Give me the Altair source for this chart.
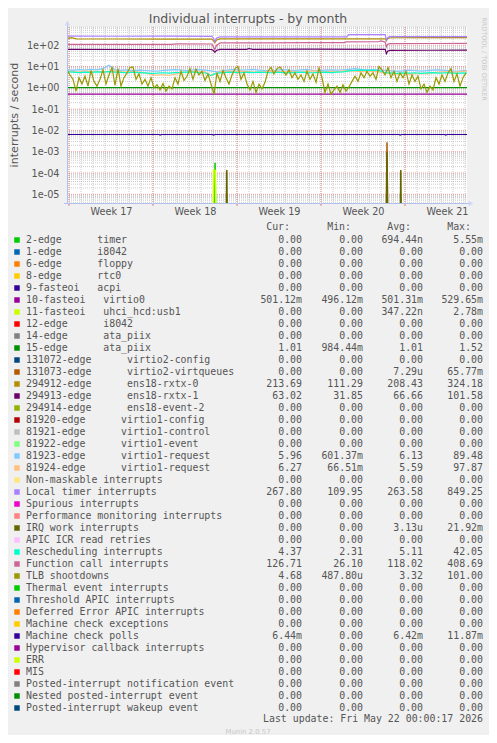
import altair as alt
import pandas as pd

# ---------------- text ----------------
title_text = "Individual interrupts - by month"
ytitle_text = "interrupts / second"
watermark_text = "RRDTOOL / TOBI OETIKER"
update_text = "Last update: Fri May 22 00:00:17 2026"
munin_text = "Munin 2.0.57"
headers = ["Cur:", "Min:", "Avg:", "Max:"]

ytick_values = [1e-05, 1e-04, 1e-03, 1e-02, 1e-01, 1e+00, 1e+01, 1e+02]
ytick_labels = ["1e-05", "1e-04", "1e-03", "1e-02", "1e-01", "1e+00", "1e+01", "1e+02"]
week_centers = [3.5, 10.5, 17.5, 24.5, 31.5]
week_labels = ["Week 17", "Week 18", "Week 19", "Week 20", "Week 21"]
week_starts = [0, 7, 14, 21, 28]
day_lines = list(range(0, 34))

# ---------------- legend ----------------
names = [
    "2-edge      timer", "1-edge      i8042", "6-edge      floppy", "8-edge      rtc0",
    "9-fasteoi   acpi", "10-fasteoi   virtio0", "11-fasteoi   uhci_hcd:usb1",
    "12-edge      i8042", "14-edge      ata_piix", "15-edge      ata_piix",
    "131072-edge      virtio2-config", "131073-edge      virtio2-virtqueues",
    "294912-edge      ens18-rxtx-0", "294913-edge      ens18-rxtx-1",
    "294914-edge      ens18-event-2", "81920-edge      virtio1-config",
    "81921-edge      virtio1-control", "81922-edge      virtio1-event",
    "81923-edge      virtio1-request", "81924-edge      virtio1-request",
    "Non-maskable interrupts", "Local timer interrupts", "Spurious interrupts",
    "Performance monitoring interrupts", "IRQ work interrupts", "APIC ICR read retries",
    "Rescheduling interrupts", "Function call interrupts", "TLB shootdowns",
    "Thermal event interrupts", "Threshold APIC interrupts", "Deferred Error APIC interrupts",
    "Machine check exceptions", "Machine check polls", "Hypervisor callback interrupts",
    "ERR", "MIS", "Posted-interrupt notification event", "Nested posted-interrupt event",
    "Posted-interrupt wakeup event",
]
colors = [
    "#00CC00", "#0066B3", "#FF8000", "#FFCC00", "#330099", "#990099", "#CCFF00", "#FF0000",
    "#808080", "#008F00", "#00487D", "#B35A00", "#B38F00", "#6B006B", "#8FB300", "#B30000",
    "#BEBEBE", "#80FF80", "#80C9FF", "#FFC080", "#FFE680", "#AA80FF", "#EE00CC", "#FF8080",
    "#666600", "#FFBFFF", "#00FFCC", "#CC6699", "#999900", "#00CC00", "#0066B3", "#FF8000",
    "#FFCC00", "#330099", "#990099", "#CCFF00", "#FF0000", "#808080", "#008F00", "#00487D",
]
Z = "0.00"
cur = [Z, Z, Z, Z, Z, "501.12m", Z, Z, Z, "1.01", Z, Z, "213.69", "63.02", Z, Z, Z, Z,
       "5.96", "6.27", Z, "267.80", Z, Z, Z, Z, "4.37", "126.71", "4.68", Z, Z, Z, Z,
       "6.44m", Z, Z, Z, Z, Z, Z]
mins = [Z, Z, Z, Z, Z, "496.12m", Z, Z, Z, "984.44m", Z, Z, "111.29", "31.85", Z, Z, Z, Z,
        "601.37m", "66.51m", Z, "109.95", Z, Z, Z, Z, "2.31", "26.10", "487.80u", Z, Z, Z, Z,
        Z, Z, Z, Z, Z, Z, Z]
avgs = ["694.44n", Z, Z, Z, Z, "501.31m", "347.22n", Z, Z, "1.01", Z, "7.29u", "208.43", "66.66",
        Z, Z, Z, Z, "6.13", "5.59", Z, "263.58", Z, Z, "3.13u", Z, "5.11", "118.02", "3.32",
        Z, Z, Z, Z, "6.42m", Z, Z, Z, Z, Z, Z]
maxs = ["5.55m", Z, Z, Z, Z, "529.65m", "2.78m", Z, Z, "1.52", Z, "65.77m", "324.18", "101.58",
        Z, Z, Z, Z, "89.48", "97.87", Z, "849.25", Z, Z, "21.92m", Z, "42.05", "408.69", "101.00",
        Z, Z, Z, Z, "11.87m", Z, Z, Z, Z, Z, Z]

# ---------------- series ----------------
tlb_vals = [7, 4, 2.5, 0.7, 3, 1.5, 3.5, 1.2, 6.5, 2, 1.2, 2.5, 7, 1.5, 4, 9, 1.3, 8, 1.2, 3,
            5, 9, 9.5, 2.5, 4.5, 1.5, 2.5, 1.2, 3, 1, 1.4, 0.8, 1.6, 0.7, 1.2, 0.9, 3, 1.5, 6, 2.2,
            3.5, 8, 2.5, 7.5, 4, 6, 2.2, 4.5, 1.5, 0.5, 5, 2, 6.5, 3, 1.5, 4, 8, 10, 2.5, 5,
            1.5, 0.8, 2, 0.6, 1.5, 0.9, 1.8, 6, 9, 4.5, 8, 9.5, 6, 4, 7, 3, 5, 2.5, 4, 2,
            6, 2.5, 4.5, 1.8, 8.5, 3, 0.6, 1.5, 0.5, 0.8, 1.2, 0.6, 1.4, 0.7, 1.1, 2, 3.5, 2, 5, 3,
            6, 3.5, 5, 2.5, 10, 7, 4, 9, 3, 6, 2, 5, 3, 6, 1.5, 4, 2, 3.5, 0.9, 1.5,
            0.6, 1.2, 0.8, 3, 1.5, 4, 2, 5, 8, 2, 4.5, 1.2, 3, 5]
blue_vals = [7.0, 6.6, 7.2, 6.8, 7.4, 6.9, 8.0, 11.5, 7.0, 6.6, 6.9, 6.4, 6.8, 6.5, 6.2, 6.0, 6.6,
             6.8, 7.1, 6.7, 6.5, 6.9, 7.2, 6.8, 6.3, 5.6, 6.4, 6.9, 7.1, 6.7, 6.9, 7.3, 6.8, 6.5,
             6.2, 6.8, 7.1, 6.7, 6.5, 6.9, 7.2, 6.6, 6.4, 6.8, 7.0, 6.7, 6.9, 7.4, 7.9, 7.3, 6.9,
             7.1, 6.8, 6.6, 6.2, 5.9, 6.3, 6.7, 6.5, 6.1, 6.4, 6.8, 7.0, 6.6, 6.3, 6.0, 6.5, 6.3]
orange_vals = [6.0, 5.8, 5.5, 6.2, 5.7, 6.0, 5.6, 5.9, 6.3, 5.8, 5.5, 5.9, 5.4, 5.0, 4.3, 3.9, 4.1,
               3.8, 4.4, 5.2, 5.6, 5.9, 5.5, 5.7, 3.6, 5.3, 5.8, 6.1, 5.7, 5.9, 6.0, 5.6, 5.4, 5.8,
               6.1, 5.9, 5.6, 6.0, 5.7, 5.5, 5.9, 6.2, 5.8, 5.6, 6.0, 5.7, 6.1, 6.4, 6.0, 5.8, 6.2,
               5.9, 5.6, 5.0, 4.6, 4.4, 4.7, 4.3, 4.6, 4.8, 4.5, 5.0, 5.4, 5.7, 5.3, 5.6, 5.9, 6.1]
cyan_vals = [5.6, 5.4, 5.2, 5.5, 5.3, 5.6, 5.4, 5.7, 5.5, 5.3, 5.1, 5.4, 5.2, 5.0, 4.8, 4.9, 5.1,
             4.9, 5.2, 5.3, 5.5, 5.4, 5.2, 5.1, 3.8, 4.9, 5.2, 5.4, 5.3, 5.1, 5.4, 5.2, 5.5, 5.3,
             5.1, 5.4, 5.2, 5.0, 5.3, 5.4, 5.2, 5.1, 5.3, 5.5, 5.2, 5.4, 5.6, 6.2, 6.6, 6.7, 6.6,
             6.8, 6.5, 5.2, 5.0, 4.8, 5.0, 4.9, 5.1, 4.8, 5.0, 5.2, 4.9, 5.1, 5.0, 4.8, 5.0, 4.9]

ltimer_days = [-0.17, 4.0, 8.0, 11.9, 12.05, 12.15, 12.3, 12.6, 16.0, 20.0, 23.15, 23.3, 26.35,
               26.45, 26.55, 26.7, 30.0, 33.2]
ltimer_vals = [268, 264, 266, 262, 210, 150, 220, 246, 244, 248, 246, 316, 318, 175, 225, 252, 255, 252]
rx0_days = [-0.17, 0.2, 0.6, 4, 8, 11.9, 12.05, 12.15, 12.3, 12.6, 16, 20, 23, 26.35, 26.45,
            26.55, 26.75, 30, 33.2]
rx0_vals = [205, 225, 198, 196, 195, 194, 160, 130, 175, 198, 199, 197, 200, 200, 162, 200, 224, 226, 225]
fcall_days = [-0.17, 4, 8.5, 9.0, 11.9, 12.05, 12.15, 12.3, 12.6, 16, 20, 22.9, 23.1, 25.8, 26.0,
              26.35, 26.45, 26.55, 26.75, 30, 33.2]
fcall_vals = [110, 109, 110, 115, 114, 80, 62, 100, 128, 130, 131, 133, 142, 145, 160, 140, 85,
              110, 118, 120, 121]
rx1_days = [-0.17, 6, 11.9, 12.05, 12.15, 12.3, 12.6, 14.8, 15.0, 15.3, 20, 26.35, 26.45, 26.55,
            26.75, 30, 33.2]
rx1_vals = [64, 63, 63, 55, 46, 58, 64, 64, 70, 64, 65, 64, 40, 52, 57, 58, 59]
ata_days = [-0.17, 33.2]
ata_vals = [1.01, 1.01]
virtio0_days = [-0.17, 33.2]
virtio0_vals = [0.501, 0.501]
mcp_days = [-0.17, 7.5, 7.6, 7.7, 11.95, 12.05, 12.15, 27.5, 27.6, 27.7, 31.3, 31.4, 31.5, 33.2]
mcp_vals = [6.42e-3, 6.42e-3, 6.0e-3, 6.42e-3, 6.42e-3, 6.0e-3, 6.42e-3, 6.42e-3, 6.0e-3,
            6.42e-3, 6.42e-3, 6.0e-3, 6.42e-3, 6.42e-3]
timer_days = [12.05, 12.17, 12.29]
timer_vals = [0, 3e-4, 0]
uhci_days = [11.98, 12.06, 12.2, 12.28]
uhci_vals = [0, 1.4e-4, 1.3e-4, 0]
irq_days = [13.05, 13.15, 13.25, 26.4, 26.5, 26.6, 27.55, 27.65, 27.75]
irq_vals = [0, 1.4e-4, 0, 0, 1e-3, 0, 0, 1.4e-4, 0]
vq_days = [26.4, 26.5, 26.6]
vq_vals = [0, 2.8e-3, 0]

W, H = 400, 176
FONT = "DejaVu Sans"
MONO = "DejaVu Sans Mono"
TXT = "#555555"

xscale = alt.Scale(domain=[-1 / 6, 33 + 1 / 6], nice=False, zero=False)
yscale = alt.Scale(type="log", domain=[3.91e-6, 716], nice=False)
ylab = "[" + ",".join("'%s'" % s for s in ytick_labels) + "][round(log(datum.value)/LN10)+5]"
xlab = "[" + ",".join("'%s'" % s for s in week_labels) + "][round((datum.value-3.5)/7)]"
xaxis = alt.Axis(values=week_centers, labelExpr=xlab, domain=False, ticks=False, grid=False,
                 labelPadding=3, labelFontSize=9.7, labelColor=TXT, labelFont=FONT, title=None)
yaxis = alt.Axis(values=ytick_values, labelExpr=ylab, domain=False, ticks=False, grid=False,
                 labelPadding=8, labelFontSize=9.7, labelColor=TXT, labelFont=FONT, title=None)


def X(f):
    return alt.X(f + ":Q", scale=xscale, axis=xaxis)


def Y(f):
    return alt.Y(f + ":Q", scale=yscale, axis=yaxis)


layers = []
# horizontal grid
minor = [m * 10.0 ** k for k in range(-6, 3) for m in range(2, 10) if 3.91e-6 < m * 10.0 ** k < 716]
layers.append(alt.Chart(pd.DataFrame({"v": minor})).mark_rule(
    color="#8F8F8F", opacity=0.45, strokeDash=[1, 1], strokeWidth=1).encode(
    y=Y("v"), x=alt.value(0), x2=alt.value(W)))
layers.append(alt.Chart(pd.DataFrame({"v": ytick_values})).mark_rule(
    color="#E85A5A", opacity=0.6, strokeDash=[1, 1], strokeWidth=1).encode(
    y=Y("v"), x=alt.value(0), x2=alt.value(W)))
# vertical grid
layers.append(alt.Chart(pd.DataFrame({"d": day_lines})).mark_rule(
    color="#8F8F8F", opacity=0.45, strokeDash=[1, 1], strokeWidth=1).encode(
    x=X("d"), y=alt.value(0), y2=alt.value(H)))
layers.append(alt.Chart(pd.DataFrame({"d": week_starts})).mark_rule(
    color="#E85A5A", opacity=0.6, strokeDash=[1, 1], strokeWidth=1).encode(
    x=X("d"), y=alt.value(0), y2=alt.value(H)))
layers.append(alt.Chart(pd.DataFrame({"d": week_starts})).mark_rule(
    color="#E85A5A", opacity=0.8, strokeWidth=1).encode(
    x=X("d"), y=alt.value(H), y2=alt.value(H + 3)))

series = [
    (timer_days, timer_vals, colors[0], 1.5),
    (virtio0_days, virtio0_vals, colors[5], 1.2),
    (uhci_days, uhci_vals, colors[6], 1.5),
    (ata_days, ata_vals, colors[9], 1.2),
    (vq_days, vq_vals, colors[11], 1.5),
    (rx0_days, rx0_vals, colors[12], 1.2),
    (rx1_days, rx1_vals, colors[13], 1.2),
    ([-1 / 6 + 0.5 * i for i in range(len(blue_vals))], blue_vals, colors[18], 1.2),
    ([-1 / 6 + 0.5 * i for i in range(len(orange_vals))], orange_vals, colors[19], 1.2),
    (ltimer_days, ltimer_vals, colors[21], 1.2),
    (irq_days, irq_vals, colors[24], 1.5),
    ([-1 / 6 + 0.5 * i for i in range(len(cyan_vals))], cyan_vals, colors[26], 1.2),
    (fcall_days, fcall_vals, colors[27], 1.2),
    ([-1 / 6 + 0.25 * i for i in range(len(tlb_vals))], tlb_vals, colors[28], 1.2),
    (mcp_days, mcp_vals, colors[33], 1.2),
]
for days, vals, col, sw in series:
    df = pd.DataFrame({"day": days, "value": vals})
    layers.append(alt.Chart(df).transform_calculate(v="max(datum.value, 1e-9)").mark_line(
        color=col, strokeWidth=sw, clip=True).encode(x=X("day"), y=Y("v")))

# axis lines and arrows
AX = "#AFC0EE"
one = pd.DataFrame({"a": [0]})
layers.append(alt.Chart(one).mark_rule(color=AX, strokeWidth=1).encode(
    x=alt.value(0.5), y=alt.value(-3), y2=alt.value(H + 1)))
layers.append(alt.Chart(one).mark_rule(color=AX, strokeWidth=1).encode(
    x=alt.value(-3), x2=alt.value(W + 3), y=alt.value(H + 0.5)))
layers.append(alt.Chart(one).mark_point(shape="triangle-up", filled=True, size=28, color="#CFD6F8",
                                       opacity=1).encode(x=alt.value(0.5), y=alt.value(-4)))
layers.append(alt.Chart(one).mark_point(shape="triangle-right", filled=True, size=28, color="#CFD6F8",
                                       opacity=1).encode(x=alt.value(W + 4), y=alt.value(H + 0.5)))

plot = alt.layer(*layers)

# ---------------- legend and texts ----------------
NB = "\u00a0"


def fmt(s):
    s = s if s[-1].isalpha() else s + " "
    return s.replace(" ", NB)


leg = pd.DataFrame({
    "row": list(range(len(names))),
    "label": [n.replace(" ", NB) for n in names],
    "color": colors,
    "cur": [fmt(s) for s in cur],
    "min": [fmt(s) for s in mins],
    "avg": [fmt(s) for s in avgs],
    "max": [fmt(s) for s in maxs],
})
rowscale = alt.Scale(domain=[0, 39], range=[213, 681], nice=False, zero=False)
RY = alt.Y("row:Q", scale=rowscale, axis=None)
base = alt.Chart(leg)
leg_layers = [
    base.mark_square(size=30, opacity=1).encode(
        x=alt.value(-50), y=RY, color=alt.Color("color:N", scale=None, legend=None)),
    base.mark_text(align="left", baseline="middle", font=MONO, fontSize=9.9, color=TXT).encode(
        x=alt.value(-41), y=RY, text="label:N"),
]
for col, xr in [("cur", 235), ("min", 296), ("avg", 356), ("max", 416)]:
    leg_layers.append(base.mark_text(align="right", baseline="middle", font=MONO, fontSize=9.9,
                                     color=TXT).encode(x=alt.value(xr), y=RY, text=col + ":N"))

hdr = pd.DataFrame({"h": headers, "x": [223, 284, 344, 404]})
leg_layers.append(alt.Chart(hdr).mark_text(align="right", baseline="middle", font=MONO, fontSize=9.9,
                                           color=TXT).encode(
    x=alt.X("x:Q", scale=alt.Scale(domain=[0, W], range=[0, W]), axis=None),
    y=alt.value(200), text="h:N"))


def label(text, x, y, size, color=TXT, font=FONT, align="center", angle=0):
    return alt.Chart(pd.DataFrame({"t": [text]})).mark_text(
        align=align, baseline="middle", font=font, fontSize=size, color=color, angle=angle).encode(
        x=alt.value(x), y=alt.value(y), text="t:N")


leg_layers += [
    label(title_text, 181, -8, 12.5),
    label(ytitle_text, -52, 88, 11.1, angle=270),
    label(watermark_text, 417, 32, 6.5, color="#C8C8C8", angle=90),
    label(update_text, 416, 692, 9.9, font=MONO, align="right"),
    label(munin_text, 181, 705, 6.9, color="#C8C8C8"),
]
legend = alt.layer(*leg_layers)

chart = alt.layer(plot, legend).resolve_scale(y="independent", x="independent").properties(
    width=W, height=H,
    autosize=alt.AutoSizeParams(type="none"),
    padding={"left": 59, "top": 19, "right": 22, "bottom": 532},
    background="#F0F0F0",
).configure_view(fill="white", stroke=None)

chart.save("out.html", embed_options={"renderer": "svg", "actions": False})
